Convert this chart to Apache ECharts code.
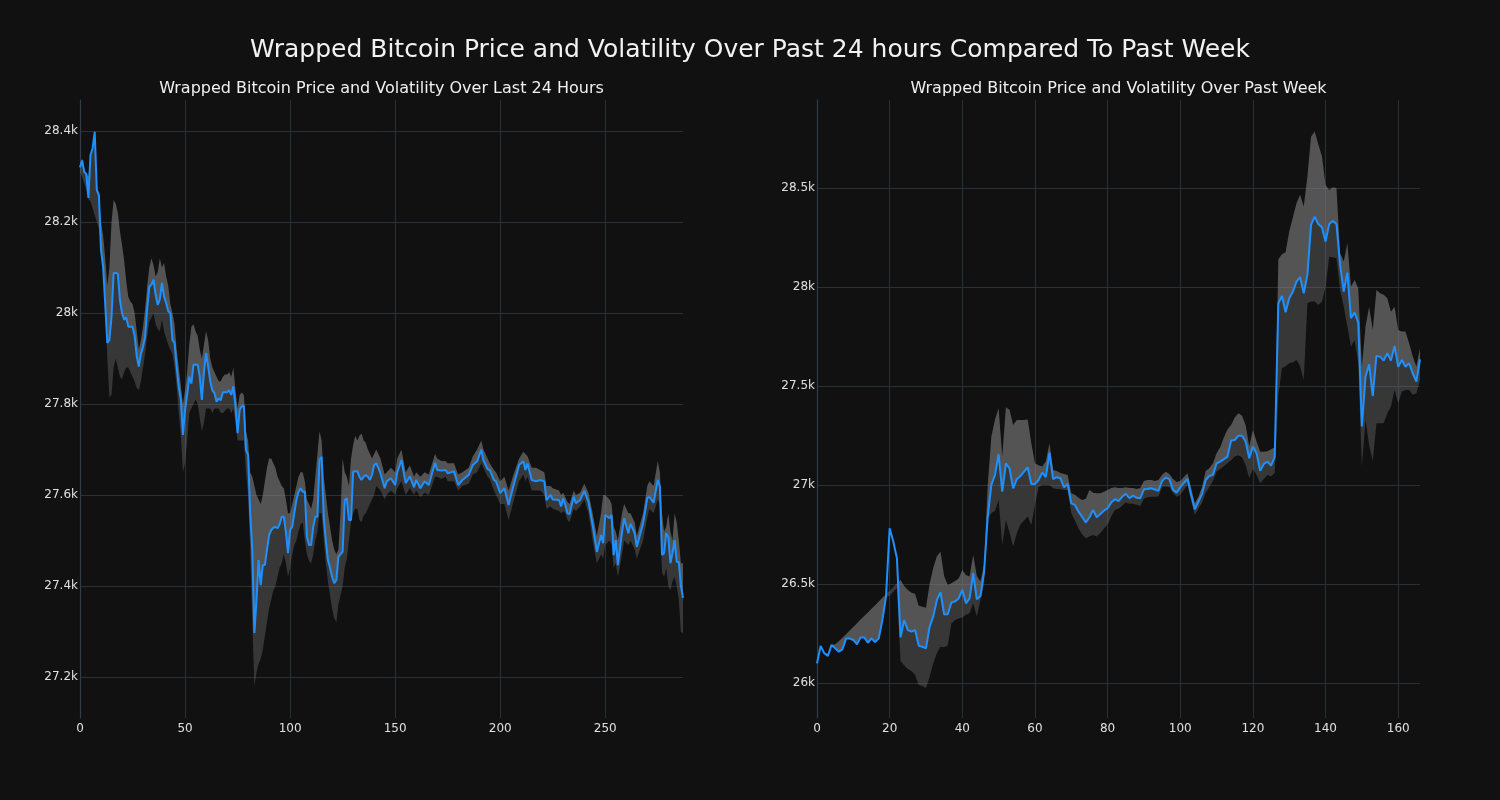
<!DOCTYPE html>
<html>
<head>
<meta charset="utf-8">
<script src="https://cdn.jsdelivr.net/npm/echarts/dist/echarts.min.js"></script>
<style>
html,body{margin:0;padding:0;background:#111111;}
#chart{width:1500px;height:800px;}
</style>
</head>
<body>
<div id="chart"></div>
<script>
// ---------- Last 24 hours (5-minute steps) ----------
const x24 = [
0,1,2,3,4,5,6,7,8,9,10,11,12,13,14,15,16,17,18,19,
20,21,22,23,24,25,26,27,28,29,30,31,32,33,34,35,36,37,38,39,
40,41,42,43,44,45,46,47,48,49,50,51,52,53,54,55,56,57,58,59,
60,61,62,63,64,65,66,67,68,69,70,71,72,73,74,75,76,77,78,79,
80,81,82,83,84,85,86,87,88,89,90,91,92,93,94,95,96,97,98,99,
100,101,102,103,104,105,106,107,108,109,110,111,112,113,114,115,116,117,118,119,
120,121,122,123,124,125,126,127,128,129,130,131,132,133,134,135,136,137,138,139,140,
141,143,145,146,148,150,151,153,155,157,
159,160,162,164,166,169,170,172,174,175,
178,180,182,185,187,189,191,192,194,195,
197,198,200,202,204,206,209,211,212,213,
215,217,219,221,222,224,225,228,229,230,
231,232,233,235,236,238,240,242,244,246,
248,249,250,252,253,254,255,256,258,259,
261,262,264,265,268,270,271,273,275,276,
277,278,279,280,281,282,283,284,285,286,
287];
const price24 = [
28320,28335,28310,28305,28253,28347,28362,28398,28270,28259,
28138,28102,28020,27934,27941,27992,28088,28088,28086,28029,
28000,27985,27990,27970,27970,27969,27950,27905,27882,27910,
27926,27948,28010,28058,28062,28073,28040,28018,28030,28066,
28036,28022,28004,28000,27941,27934,27882,27838,27809,27732,
27787,27820,27860,27845,27886,27886,27886,27860,27809,27870,
27912,27882,27850,27830,27824,27805,27812,27808,27826,27826,
27826,27830,27820,27839,27794,27736,27787,27795,27796,27699,
27688,27560,27479,27297,27369,27457,27402,27446,27446,27480,
27512,27523,27528,27530,27527,27535,27552,27552,27519,27472,
27523,27530,27560,27589,27607,27615,27607,27607,27508,27490,
27490,27530,27552,27552,27677,27684,27552,27500,27457,27440,
27420,27406,27413,27464,27470,27475,27589,27593,27545,27545,
27651,27652,27652,27640,27633,27640,27644,27640,27633,27645,
27666,
27670,27648,27615,27630,27637,27622,27650,27677,27626,27641,
27617,27633,27615,27630,27622,27671,27655,27654,27655,27648,
27652,27622,27633,27644,27666,27674,27700,27677,27657,27655,
27633,27630,27604,27615,27578,27615,27666,27674,27655,27669,
27633,27630,27633,27630,27589,27600,27590,27589,27575,27593,
27578,27560,27558,27596,27582,27589,27609,27585,27534,27475,
27512,27494,27556,27549,27556,27468,27501,27446,27519,27549,
27516,27537,27516,27486,27538,27593,27596,27583,27633,27618,
27468,27472,27516,27508,27450,27472,27501,27453,27453,27400,
27374];
const upper24 = [
28325,28340,28315,28308,28300,28350,28365,28400,28280,28262,
28200,28170,28120,28060,28100,28200,28248,28240,28220,28180,
28150,28116,28070,28035,28025,28020,28000,27960,27920,27940,
27970,28010,28060,28100,28120,28105,28080,28090,28120,28100,
28110,28080,28060,28020,28000,27975,27920,27880,27840,27800,
27830,27870,27930,27970,27975,27960,27950,27920,27900,27930,
27960,27940,27900,27880,27870,27860,27850,27850,27860,27865,
27865,27870,27860,27880,27830,27790,27820,27825,27820,27740,
27720,27650,27640,27620,27600,27590,27580,27600,27630,27660,
27680,27680,27670,27660,27640,27630,27620,27615,27590,27560,
27560,27580,27600,27620,27640,27650,27650,27630,27590,27580,
27570,27590,27640,27690,27740,27720,27640,27600,27560,27530,
27500,27480,27470,27480,27560,27680,27650,27640,27620,27680,
27710,27730,27720,27730,27735,27720,27715,27700,27690,27680,
27690,
27700,27680,27645,27650,27660,27650,27680,27700,27650,27665,
27640,27650,27640,27650,27645,27690,27680,27675,27675,27670,
27670,27645,27650,27660,27685,27700,27720,27700,27680,27670,
27655,27650,27630,27640,27610,27640,27680,27695,27690,27685,
27660,27660,27655,27650,27620,27620,27615,27610,27600,27605,
27595,27585,27580,27610,27600,27605,27625,27605,27560,27510,
27560,27600,27600,27590,27580,27530,27520,27500,27560,27580,
27560,27560,27540,27510,27560,27620,27630,27620,27675,27650,
27560,27520,27530,27560,27520,27500,27560,27540,27500,27450,
27450];
const lower24 = [
28310,28300,28285,28270,28250,28245,28230,28215,28200,28185,
28150,28110,28020,27900,27815,27820,27880,27900,27880,27860,
27855,27870,27880,27880,27870,27860,27850,27835,27830,27850,
27880,27910,27950,27980,27990,28000,27975,27965,27960,27985,
27960,27945,27930,27920,27910,27880,27840,27780,27730,27650,
27670,27720,27780,27790,27800,27810,27800,27770,27740,27760,
27790,27790,27790,27780,27790,27790,27790,27780,27780,27785,
27790,27790,27780,27790,27760,27720,27720,27720,27720,27650,
27600,27480,27320,27180,27210,27230,27240,27260,27290,27320,
27350,27370,27390,27400,27420,27440,27450,27470,27450,27420,
27440,27470,27490,27500,27520,27535,27540,27500,27470,27455,
27450,27470,27500,27520,27560,27560,27500,27450,27410,27380,
27350,27330,27320,27360,27380,27400,27440,27460,27500,27540,
27560,27570,27570,27545,27540,27555,27560,27570,27580,27590,
27600,
27620,27610,27590,27600,27610,27600,27615,27630,27600,27615,
27600,27610,27595,27605,27600,27640,27640,27635,27640,27630,
27630,27610,27620,27625,27645,27650,27670,27660,27640,27635,
27610,27600,27580,27580,27545,27580,27630,27645,27630,27640,
27610,27610,27610,27600,27570,27575,27570,27565,27560,27565,
27560,27545,27540,27570,27565,27575,27590,27560,27500,27450,
27470,27460,27490,27500,27490,27440,27450,27420,27470,27500,
27490,27500,27480,27460,27500,27550,27570,27560,27590,27580,
27430,27420,27440,27400,27390,27410,27420,27400,27370,27300,
27295];

// ---------- Past week (hourly steps) ----------
const xWeek = [
0,1,2,3,4,5,6,7,8,9,10,11,12,13,14,15,16,17,18,19,
20,21,22,23,24,25,26,27,28,29,30,31,32,33,34,35,36,37,38,39,
40,41,42,43,44,45,46,47,48,49,50,51,52,53,54,55,56,57,58,59,
60,61,62,63,64,65,66,67,68,69,70,71,72,73,74,75,76,77,78,79,
80,81,82,83,84,85,86,87,88,89,90,91,92,93,94,95,96,97,98,99,
100,101,102,103,104,105,106,107,108,109,110,111,112,113,114,115,116,117,118,119,
120,121,122,123,124,125,126,127,128,129,130,131,132,133,134,135,136,137,138,139,
140,141,142,143,144,145,146,147,148,149,150,151,152,153,154,155,156,157,158,159,
160,161,162,163,164,165,166];
const priceWeek = [
26099,26187,26150,26136,26192,26175,26158,26170,26224,26224,
26217,26195,26230,26230,26203,26225,26206,26225,26318,26436,
26781,26714,26630,26230,26318,26267,26259,26267,26188,26183,
26175,26284,26335,26419,26458,26347,26347,26406,26412,26427,
26470,26402,26427,26554,26422,26439,26562,26840,27000,27051,
27155,26966,27109,27084,26983,27029,27045,27067,27089,27005,
27005,27025,27062,27039,27163,27029,27039,27034,26988,27005,
26907,26899,26865,26838,26810,26837,26874,26837,26853,26870,
26882,26911,26928,26919,26940,26955,26933,26946,26935,26933,
26978,26980,26983,26977,26971,27020,27037,27029,26975,26961,
26988,27010,27030,26950,26877,26915,26955,27025,27045,27051,
27109,27118,27130,27143,27224,27227,27249,27248,27219,27135,
27194,27160,27071,27106,27118,27098,27140,27917,27954,27872,
27943,27976,28027,28049,27968,28061,28313,28355,28318,28301,
28229,28318,28333,28318,28111,27976,28072,27842,27870,27820,
27295,27547,27609,27449,27651,27648,27628,27665,27628,27702,
27597,27631,27597,27614,27564,27522,27634];
const upperWeek = [
26099,26187,26150,26150,26192,26195,26210,26228,26246,26265,
26283,26301,26320,26338,26356,26375,26393,26411,26430,26448,
26466,26485,26503,26520,26490,26470,26455,26450,26390,26385,
26380,26500,26580,26640,26663,26540,26495,26503,26515,26528,
26570,26545,26537,26646,26540,26512,26600,27000,27244,27330,
27387,27143,27392,27380,27303,27328,27328,27328,27330,27210,
27110,27100,27093,27120,27210,27076,27070,27060,27055,27050,
26958,26950,26935,26924,26930,26975,26960,26958,26958,26965,
26975,26985,26988,26985,26985,26988,26985,26985,26980,26985,
27020,27025,27025,27020,27025,27051,27067,27055,27030,27015,
27020,27040,27059,26985,26907,26940,26990,27070,27084,27110,
27160,27190,27240,27280,27303,27340,27362,27350,27303,27194,
27278,27220,27168,27168,27170,27180,27190,28140,28165,28175,
28280,28350,28423,28465,28406,28557,28759,28785,28720,28660,
28515,28490,28503,28500,28170,28128,28220,28002,28035,27993,
27597,27800,27900,27783,27985,27968,27960,27943,27875,27900,
27783,27775,27775,27715,27650,27597,27690];
const lowerWeek = [
26099,26187,26150,26136,26192,26175,26158,26170,26224,26224,
26217,26195,26230,26230,26203,26225,26206,26225,26318,26436,
26440,26460,26480,26110,26090,26070,26060,26040,25990,25985,
25975,26030,26100,26150,26183,26180,26190,26300,26318,26325,
26330,26345,26352,26402,26335,26419,26500,26830,26857,26870,
26924,26697,26823,26760,26688,26756,26800,26820,26840,26798,
26900,26990,27000,27000,27000,26983,26980,26978,26975,26975,
26857,26820,26780,26750,26731,26740,26747,26740,26756,26780,
26800,26840,26874,26880,26895,26911,26905,26905,26900,26894,
26930,26938,26940,26940,26941,26990,26992,26990,26960,26940,
26950,26975,27000,26920,26848,26880,26910,26960,26990,27020,
27067,27080,27095,27109,27125,27143,27150,27140,27100,27034,
27080,27050,27008,27030,27050,27042,27060,27450,27590,27600,
27614,27620,27631,27600,27530,27917,27926,27926,27909,27926,
28000,28153,28150,28145,27985,27901,27800,27698,27732,27614,
27093,27328,27200,27118,27311,27311,27311,27362,27396,27480,
27413,27472,27480,27480,27455,27463,27530];

const mainTitle = 'Wrapped Bitcoin Price and Volatility Over Past 24 hours Compared To Past Week';
const leftTitle = 'Wrapped Bitcoin Price and Volatility Over Last 24 Hours';
const rightTitle = 'Wrapped Bitcoin Price and Volatility Over Past Week';

// Volatility band drawn as two translucent polygons through the axis scales:
// light = between price and upper bound, dark = between lower bound and price.
function bandSeries(xs, p, u, l, idx) {
  const mid = p.map((v, i) => Math.min(Math.max(v, l[i]), u[i]));
  const rows = xs.map((x, i) => [x, l[i], mid[i], u[i]]);
  const band = {
    type: 'custom', xAxisIndex: idx, yAxisIndex: idx, silent: true, z: 2,
    data: rows,
    encode: {x: 0, y: [1, 3]},
    renderItem: function (params, api) {
      if (params.dataIndex !== 0) return null;
      const top = [], midPts = [], bot = [];
      for (let i = 0; i < rows.length; i++) {
        top.push(api.coord([rows[i][0], rows[i][3]]));
        midPts.push(api.coord([rows[i][0], rows[i][2]]));
        bot.push(api.coord([rows[i][0], rows[i][1]]));
      }
      const midRev = midPts.slice().reverse();
      return {
        type: 'group',
        children: [
          {type: 'polygon', shape: {points: top.concat(midRev)}, style: {fill: 'rgba(128,128,128,0.61)', stroke: null}},
          {type: 'polygon', shape: {points: bot.concat(midRev)}, style: {fill: 'rgba(128,128,128,0.34)', stroke: null}}
        ]
      };
    }
  };
  const line = {
    type: 'line', xAxisIndex: idx, yAxisIndex: idx, symbol: 'none', z: 5,
    data: xs.map((x, i) => [x, p[i]]),
    lineStyle: {color: '#1e90ff', width: 2}
  };
  return [band, line];
}

function kfmt(v) {
  const s = (v / 1000).toFixed(1).replace(/\.0$/, '');
  return s + 'k';
}

const gridColor = '#28303a';
const labelColor = '#e0e0e0';
const font = 'DejaVu Sans';

function xAxis(idx, max, step) {
  return {type: 'value', gridIndex: idx, min: 0, max: max, interval: step,
    axisLine: {show: false}, axisTick: {show: false},
    splitLine: {show: true, showMaxLine: false, lineStyle: {color: gridColor, width: 1}},
    axisLabel: {color: labelColor, fontFamily: font, fontSize: 12, margin: 5,
      formatter: v => (v % step === 0 ? String(v) : '')}};
}
function yAxis(idx, min, max, step, splitNumber) {
  return {type: 'value', gridIndex: idx, min: min, max: max, splitNumber: splitNumber, scale: true,
    axisLine: {show: true, lineStyle: {color: '#323c48', width: 1.2}}, axisTick: {show: false},
    splitLine: {show: true, showMinLine: false, showMaxLine: false, lineStyle: {color: gridColor, width: 1}},
    axisLabel: {color: labelColor, fontFamily: font, fontSize: 12, margin: 2,
      formatter: v => (Math.abs(v % step) < 1e-6 ? kfmt(v) : '')}};
}

const chart = echarts.init(document.getElementById('chart'));
chart.setOption({
  backgroundColor: '#111111',
  animation: false,
  graphic: [
    {type: 'text', x: 750, y: 50, style: {text: mainTitle, fill: '#f2f2f2', font: '25px "DejaVu Sans"', textAlign: 'center', textVerticalAlign: 'middle'}},
    {type: 'text', x: 381.5, y: 89, style: {text: leftTitle, fill: '#f0f0f0', font: '16px "DejaVu Sans"', textAlign: 'center', textVerticalAlign: 'middle'}},
    {type: 'text', x: 1118.5, y: 89, style: {text: rightTitle, fill: '#f0f0f0', font: '16px "DejaVu Sans"', textAlign: 'center', textVerticalAlign: 'middle'}}
  ],
  grid: [
    {left: 80, right: 817, top: 100, bottom: 82},
    {left: 817, right: 80, top: 100, bottom: 82}
  ],
  xAxis: [xAxis(0, 287, 50), xAxis(1, 166, 20)],
  yAxis: [yAxis(0, 27110, 28468, 200, 7), yAxis(1, 25823, 28944, 500, 6)],
  series: [].concat(
    bandSeries(x24, price24, upper24, lower24, 0),
    bandSeries(xWeek, priceWeek, upperWeek, lowerWeek, 1)
  )
});
</script>
</body>
</html>
